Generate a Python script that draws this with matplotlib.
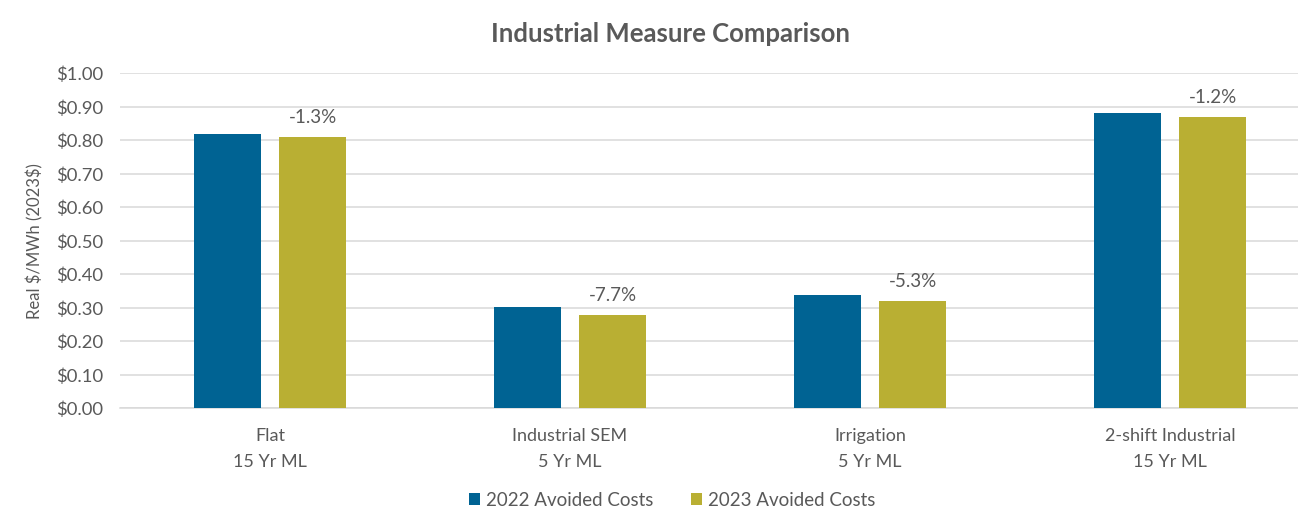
import matplotlib
matplotlib.use("Agg")
import matplotlib.pyplot as plt
import numpy as np

# Chart data
categories = ["Flat\n15 Yr ML", "Industrial SEM\n5 Yr ML", "Irrigation\n5 Yr ML", "2-shift Industrial\n15 Yr ML"]
costs_2022 = [0.820, 0.303, 0.338, 0.882]
costs_2023 = [0.809, 0.280, 0.320, 0.871]
changes = ["-1.3%", "-7.7%", "-5.3%", "-1.2%"]
yticks = [0.0, 0.1, 0.2, 0.3, 0.4, 0.5, 0.6, 0.7, 0.8, 0.9, 1.0]

blue = "#006393"
gold = "#B9AF33"
text_grey = "#595959"
grid_grey = "#D9D9D9"

plt.rcParams['font.family'] = ['Lato', 'DejaVu Sans']

fig = plt.figure(figsize=(12.98, 5.23), dpi=100)
ax = fig.add_axes([120 / 1298, 1 - 408.3 / 523, 1178 / 1298, 335 / 523])

x = np.arange(len(categories))
w = 0.223
off = 0.142
ax.bar(x - off, costs_2022, w, color=blue, label="2022 Avoided Costs", zorder=3)
bars23 = ax.bar(x + off, costs_2023, w, color=gold, label="2023 Avoided Costs", zorder=3)

# percent change labels above the 2023 bars
for b, txt in zip(bars23, changes):
    ax.annotate(txt, (b.get_x() + b.get_width() / 2, b.get_height()),
                xytext=(0, 14), textcoords="offset points",
                ha="center", va="center", fontsize=13.5, color=text_grey)

ax.set_xlim(-0.5, 3.5 - 22 / 300)
ax.set_ylim(0, 1.0)
ax.set_yticks(yticks)
ax.set_yticklabels([f"${v:.2f}" for v in yticks], fontsize=13.3, color=text_grey)
ax.set_xticks(x)
ax.set_xticklabels(categories, fontsize=13, color=text_grey, linespacing=1.8)
ax.tick_params(axis="both", length=0)
ax.tick_params(axis="y", pad=12)
ax.tick_params(axis="x", pad=14)

ax.grid(axis="y", color=grid_grey, linewidth=1.1, zorder=0)
for s in ["top", "right", "left"]:
    ax.spines[s].set_visible(False)
ax.spines["bottom"].set_color(grid_grey)
ax.spines["bottom"].set_linewidth(1.1)

ax.set_ylabel(r"Real \$/MWh (2023\$)", fontsize=12, color=text_grey, labelpad=9)

fig.text(670 / 1298, 1 - 34 / 523, "Industrial Measure Comparison", ha="center", va="center",
         fontsize=18.5, fontweight="bold", color=text_grey)

fig.legend(loc="center", bbox_to_anchor=(672 / 1298, 1 - 500 / 523), ncol=2, frameon=False,
           fontsize=13.5, labelcolor=text_grey, handlelength=0.6, handleheight=0.6,
           handletextpad=0.3, columnspacing=2.0)

fig.savefig("out.png", dpi=100)
